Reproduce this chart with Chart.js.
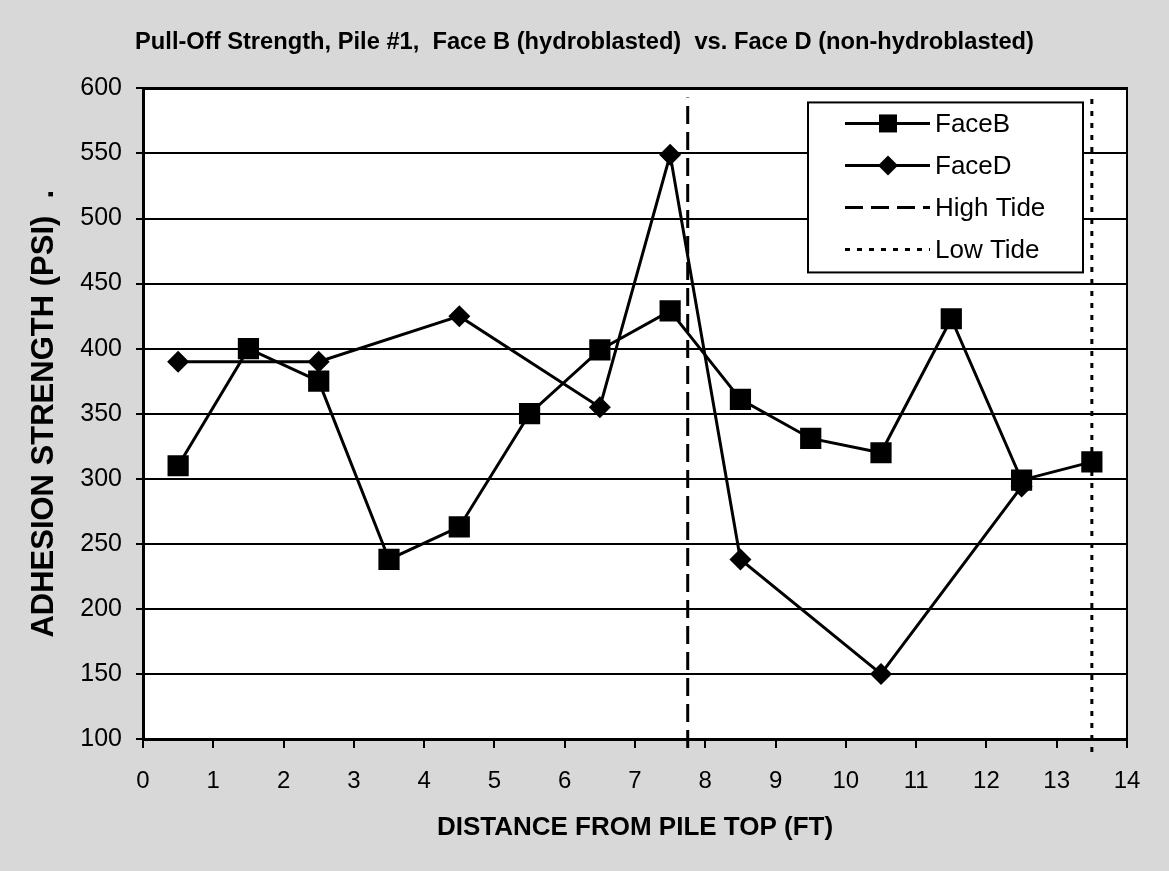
<!DOCTYPE html>
<html>
<head>
<meta charset="utf-8">
<title>Pull-Off Strength, Pile #1</title>
<script src="https://cdn.jsdelivr.net/npm/chart.js@4.4.1/dist/chart.umd.min.js"></script>
<style>
  html, body { margin: 0; padding: 0; background: #d8d8d8; }
  #wrap { width: 1169px; height: 871px; }
</style>
</head>
<body>
<div id="wrap"><canvas id="chart" width="1169" height="871"></canvas></div>
<script>
// Distance from pile top (ft) and adhesion strength (psi)
const faceBDistances = [0.5, 1.5, 2.5, 3.5, 4.5, 5.5, 6.5, 7.5, 8.5, 9.5, 10.5, 11.5, 12.5, 13.5];
const faceBValues = [310, 400, 375, 238, 263, 350, 399, 429, 361, 331, 320, 423, 299, 313];

const faceDDistances = [0.5, 2.5, 4.5, 6.5, 7.5, 8.5, 10.5, 12.5];
const faceDValues = [390, 390, 425, 355, 549, 238, 150, 294];

// Tide markers: position and the vertical span they are drawn over
const highTideAt = 7.75;
const highTideSpan = [93, 593];
const lowTideAt = 13.5;
const lowTideSpan = [90, 596];

// Axis ranges / tick labels
const xRange = [0, 14];
const xStep = 1;
const yRange = [100, 600];
const yStep = 50;

const seriesLabels = ['FaceB', 'FaceD', 'High Tide', 'Low Tide'];

const FONT = "'Liberation Sans', Arial, Helvetica, sans-serif";

function toPoints(xs, ys) {
    return xs.map((x, i) => ({ x: x, y: ys[i] }));
}

// Page background and white plot area
const backdrop = {
    id: 'backdrop',
    beforeDraw(chart) {
        const { ctx, chartArea: a } = chart;
        ctx.save();
        ctx.fillStyle = '#d8d8d8';
        ctx.fillRect(0, 0, chart.width, chart.height);
        ctx.fillStyle = '#ffffff';
        ctx.fillRect(a.left, a.top, a.right - a.left, a.bottom - a.top);
        ctx.restore();
    }
};

// Legend box inside the plot area, like the original
const boxLegend = {
    id: 'boxLegend',
    afterDraw(chart) {
        const { ctx, chartArea: a } = chart;
        const w = 275, h = 170;
        const left = a.right - 44 - w;
        const top = a.top + 14;
        ctx.save();
        ctx.fillStyle = '#ffffff';
        ctx.fillRect(left, top, w, h);
        ctx.lineWidth = 2;
        ctx.strokeStyle = '#000';
        ctx.strokeRect(left, top, w, h);

        chart.data.datasets.forEach((ds, i) => {
            const y = top + 21 + i * 42;
            ctx.strokeStyle = '#000';
            ctx.lineWidth = 3;
            ctx.setLineDash(ds.borderDash || []);
            ctx.beginPath();
            ctx.moveTo(left + 37, y);
            ctx.lineTo(left + 122, y);
            ctx.stroke();
            ctx.setLineDash([]);

            const cx = left + 80;
            ctx.fillStyle = '#000';
            if (ds.pointStyle === 'rect') {
                ctx.fillRect(cx - 9, y - 9, 18, 18);
            } else if (ds.pointStyle === 'rectRot') {
                ctx.beginPath();
                ctx.moveTo(cx - 10, y);
                ctx.lineTo(cx, y - 10);
                ctx.lineTo(cx + 10, y);
                ctx.lineTo(cx, y + 10);
                ctx.closePath();
                ctx.fill();
            }

            ctx.font = '26px ' + FONT;
            ctx.textBaseline = 'middle';
            ctx.textAlign = 'left';
            ctx.fillText(ds.label, left + 127, y + 1);
        });
        ctx.restore();
    }
};

new Chart(document.getElementById('chart'), {
    type: 'line',
    data: {
        datasets: [
            {
                label: seriesLabels[0],
                data: toPoints(faceBDistances, faceBValues),
                borderColor: '#000',
                backgroundColor: '#000',
                borderWidth: 3,
                pointStyle: 'rect',
                pointRadius: 15,
                pointBorderWidth: 0,
                pointBackgroundColor: '#000'
            },
            {
                label: seriesLabels[1],
                data: toPoints(faceDDistances, faceDValues),
                borderColor: '#000',
                backgroundColor: '#000',
                borderWidth: 3,
                pointStyle: 'rectRot',
                pointRadius: 11,
                pointBorderWidth: 0,
                pointBackgroundColor: '#000'
            },
            {
                label: seriesLabels[2],
                data: toPoints([highTideAt, highTideAt], highTideSpan),
                borderColor: '#000',
                borderWidth: 3,
                borderDash: [18, 8],
                pointRadius: 0,
                clip: false
            },
            {
                label: seriesLabels[3],
                data: toPoints([lowTideAt, lowTideAt], lowTideSpan),
                borderColor: '#000',
                borderWidth: 3,
                borderDash: [5, 7],
                pointRadius: 0,
                clip: false
            }
        ]
    },
    options: {
        responsive: false,
        animation: false,
        devicePixelRatio: 1,
        layout: { padding: 0 },
        plugins: {
            legend: { display: false },
            tooltip: { enabled: false },
            title: {
                display: true,
                text: 'Pull-Off Strength, Pile #1,  Face B (hydroblasted)  vs. Face D (non-hydroblasted)',
                color: '#000',
                font: { family: FONT, size: 23.7, weight: 'bold' },
                padding: { top: 28, bottom: 32 }
            }
        },
        scales: {
            x: {
                type: 'linear',
                position: 'bottom',
                min: xRange[0],
                max: xRange[1],
                ticks: {
                    stepSize: xStep,
                    color: '#000',
                    padding: 19,
                    font: { family: FONT, size: 24 }
                },
                grid: {
                    drawOnChartArea: false,
                    drawTicks: true,
                    tickLength: 9,
                    color: '#000',
                    lineWidth: 2
                },
                border: { display: true, color: '#000', width: 3 },
                title: {
                    display: true,
                    text: 'DISTANCE FROM PILE TOP (FT)',
                    color: '#000',
                    font: { family: FONT, size: 26, weight: 'bold' },
                    padding: { top: 0, bottom: 28 }
                },
                afterFit(scale) { scale.height = 132; }
            },
            x2: {
                type: 'linear',
                position: 'top',
                display: true,
                ticks: { display: false },
                grid: { display: false, drawTicks: false },
                border: { display: true, color: '#000', width: 3 },
                afterFit(scale) { scale.height = 0; }
            },
            y: {
                type: 'linear',
                position: 'left',
                min: yRange[0],
                max: yRange[1],
                ticks: {
                    stepSize: yStep,
                    color: '#000',
                    padding: 14,
                    font: { family: FONT, size: 25 }
                },
                grid: {
                    drawTicks: true,
                    tickLength: 7,
                    color: '#000',
                    lineWidth: 2
                },
                border: { display: true, color: '#000', width: 3 },
                title: {
                    display: true,
                    text: 'ADHESION STRENGTH (PSI)  .',
                    color: '#000',
                    font: { family: FONT, size: 31, weight: 'bold' },
                    padding: { top: 26, bottom: 0 }
                },
                afterFit(scale) { scale.width = 143; }
            },
            y2: {
                type: 'linear',
                position: 'right',
                display: true,
                ticks: { display: false },
                grid: { display: false, drawTicks: false },
                border: { display: true, color: '#000', width: 2 },
                afterFit(scale) { scale.width = 42; }
            }
        }
    },
    plugins: [backdrop, boxLegend]
});
</script>
</body>
</html>
